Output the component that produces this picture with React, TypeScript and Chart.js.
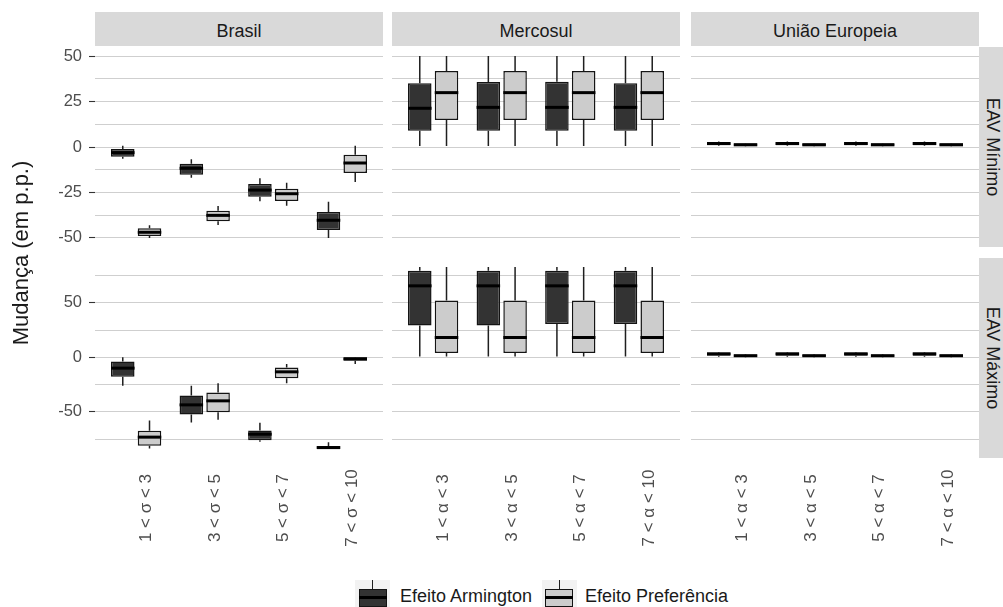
import React, { useEffect, useRef } from 'react';
import { Chart, registerables } from 'chart.js';

Chart.register(...registerables);

type Five = [number, number, number, number, number];

// Series, facets and category labels
const seriesNames = ['Efeito Armington', 'Efeito Preferência'];
const regionNames = ['Brasil', 'Mercosul', 'União Europeia'];
const scenarioNames = ['EAV Mínimo', 'EAV Máximo'];
const sigmaRanges = ['1 < σ < 3', '3 < σ < 5', '5 < σ < 7', '7 < σ < 10'];
const alphaRanges = ['1 < α < 3', '3 < α < 5', '5 < α < 7', '7 < α < 10'];
const axisTitle = 'Mudança (em p.p.)';

// Five-number summaries per elasticity range: [min, q1, median, q3, max]
const brasilMinArmington: Five[] = [
  [-6.4, -5.3, -3.1, -1.1, 0.7],
  [-16.9, -15.2, -11.7, -9.2, -6.8],
  [-29.9, -27.3, -23.7, -20.4, -17.2],
  [-50, -45.7, -40.3, -35.8, -30.1],
];
const brasilMinPreferencia: Five[] = [
  [-50, -49, -46.9, -44.7, -43.1],
  [-42.9, -40.9, -37.6, -35, -32.5],
  [-32.3, -29.7, -25.7, -22.9, -19.6],
  [-19.3, -14.3, -8.8, -4.2, 0.7],
];
const mercosulMinArmington: Five[] = [
  [0.5, 9, 21.3, 35, 50],
  [0.5, 9, 21.8, 35.8, 50],
  [0.5, 9, 21.8, 35.9, 50],
  [0.5, 9, 21.8, 35, 50],
];
const mercosulMinPreferencia: Five[] = [
  [0.5, 14.9, 29.9, 41.8, 50],
  [0.5, 14.9, 29.9, 41.8, 50],
  [0.5, 14.9, 29.9, 41.8, 50],
  [0.5, 14.9, 29.9, 41.8, 50],
];
const ueMinArmington: Five[] = [
  [0.6, 0.9, 1.9, 2.7, 3.0],
  [0.6, 0.9, 1.9, 2.7, 3.0],
  [0.6, 0.9, 1.9, 2.7, 3.0],
  [0.6, 0.9, 1.9, 2.7, 3.0],
];
const ueMinPreferencia: Five[] = [
  [0.4, 0.7, 1.2, 2.0, 2.2],
  [0.4, 0.7, 1.2, 2.0, 2.2],
  [0.4, 0.7, 1.2, 2.0, 2.2],
  [0.4, 0.7, 1.2, 2.0, 2.2],
];

const brasilMaxArmington: Five[] = [
  [-26.1, -17.9, -9.9, -3.8, 0.2],
  [-59.8, -52.4, -43.6, -35, -26.1],
  [-77.5, -76, -70.5, -67.1, -60.1],
  [-84, -83.8, -82.8, -81.3, -77.8],
];
const brasilMaxPreferencia: Five[] = [
  [-83.6, -81.2, -73.2, -67.4, -58],
  [-57.3, -50.3, -39.9, -32.3, -23.7],
  [-23.7, -19.1, -13.3, -9.3, -6.2],
  [-6.2, -3.2, -1.4, 0.2, 0.3],
];
const mercosulMaxArmington: Five[] = [
  [0.7, 29.2, 65.6, 79.4, 82.8],
  [0.7, 29.2, 65.6, 79.4, 82.8],
  [0.7, 30.7, 65.6, 79.4, 82.8],
  [0.7, 30.7, 65.6, 79.4, 82.8],
];
const mercosulMaxPreferencia: Five[] = [
  [0.7, 3.9, 18.2, 52.1, 82.8],
  [0.7, 3.9, 18.2, 52.1, 82.8],
  [0.7, 3.9, 18.2, 52.1, 82.8],
  [0.7, 3.9, 18.2, 52.1, 82.8],
];
const ueMaxArmington: Five[] = [
  [0.5, 1.5, 3.2, 4.5, 4.8],
  [0.5, 1.5, 3.2, 4.5, 4.8],
  [0.5, 1.5, 3.2, 4.5, 4.8],
  [0.5, 1.5, 3.2, 4.5, 4.8],
];
const ueMaxPreferencia: Five[] = [
  [0, 0.5, 1.5, 2.7, 3.0],
  [0, 0.5, 1.5, 2.7, 3.0],
  [0, 0.5, 1.5, 2.7, 3.0],
  [0, 0.5, 1.5, 2.7, 3.0],
];

// Facet grid: rows = scenarios, columns = regions
const gridRows: Five[][][][] = [
  [
    [brasilMinArmington, brasilMinPreferencia],
    [mercosulMinArmington, mercosulMinPreferencia],
    [ueMinArmington, ueMinPreferencia],
  ],
  [
    [brasilMaxArmington, brasilMaxPreferencia],
    [mercosulMaxArmington, mercosulMaxPreferencia],
    [ueMaxArmington, ueMaxPreferencia],
  ],
];
const columnRanges = [sigmaRanges, alphaRanges, alphaRanges];
const rowSteps = [12.5, 25];
const rowMajors = [25, 50];

// Layout
const FONT = '"Liberation Sans", Arial, Helvetica, sans-serif';
const PANEL_LEFT = [95, 392, 691];
const PANEL_W = 288;
const ROW_TOP = [47, 258];
const PANEL_H = 200;
const Y_AXIS_W = 95;
const X_AXIS_H = 100;
const FILLS = ['#333333', '#cccccc'];

function paddedRange(cols: Five[][][]): [number, number] {
  let lo = Infinity;
  let hi = -Infinity;
  cols.forEach((pair) =>
    pair.forEach((series) =>
      series.forEach((s) => {
        lo = Math.min(lo, s[0]);
        hi = Math.max(hi, s[4]);
      })
    )
  );
  const pad = (hi - lo) * 0.05;
  return [lo - pad, hi + pad];
}

function makeBoxPlugin(stats: Five[][], labels: string[] | null) {
  return {
    id: 'boxGlyphs',
    beforeDatasetsDraw(chart: any) {
      const ctx = chart.ctx;
      const ys = chart.scales.y;
      ctx.save();
      ctx.strokeStyle = '#1f1f1f';
      ctx.lineWidth = 1.5;
      stats.forEach((series, d) => {
        const meta = chart.getDatasetMeta(d);
        meta.data.forEach((bar: any, i: number) => {
          const s = series[i];
          const x = bar.x;
          ctx.beginPath();
          ctx.moveTo(x, ys.getPixelForValue(s[4]));
          ctx.lineTo(x, ys.getPixelForValue(s[3]));
          ctx.moveTo(x, ys.getPixelForValue(s[1]));
          ctx.lineTo(x, ys.getPixelForValue(s[0]));
          ctx.stroke();
        });
      });
      ctx.restore();
    },
    afterDatasetsDraw(chart: any) {
      const ctx = chart.ctx;
      const ys = chart.scales.y;
      ctx.save();
      ctx.strokeStyle = '#000000';
      ctx.lineWidth = 3;
      stats.forEach((series, d) => {
        const meta = chart.getDatasetMeta(d);
        meta.data.forEach((bar: any, i: number) => {
          const ym = ys.getPixelForValue(series[i][2]);
          const half = bar.width / 2;
          ctx.beginPath();
          ctx.moveTo(bar.x - half, ym);
          ctx.lineTo(bar.x + half, ym);
          ctx.stroke();
        });
      });
      ctx.restore();
    },
    afterDraw(chart: any) {
      if (!labels) return;
      const ctx = chart.ctx;
      const xs = chart.scales.x;
      const area = chart.chartArea;
      ctx.save();
      ctx.fillStyle = '#4d4d4d';
      ctx.font = `17px ${FONT}`;
      ctx.textAlign = 'center';
      ctx.textBaseline = 'alphabetic';
      labels.forEach((lbl, i) => {
        const x = xs.getPixelForValue(i + 1);
        ctx.save();
        ctx.translate(x + 15, area.bottom + 50);
        ctx.rotate(-Math.PI / 2);
        ctx.fillText(lbl, 0, 0);
        ctx.restore();
      });
      ctx.restore();
    },
  };
}

type PanelProps = {
  row: number;
  col: number;
  yRange: [number, number];
};

function Panel({ row, col, yRange }: PanelProps) {
  const ref = useRef<HTMLCanvasElement>(null);
  const showY = col === 0;
  const showX = row === gridRows.length - 1;
  const canvasLeft = showY ? PANEL_LEFT[col] - Y_AXIS_W : PANEL_LEFT[col];
  const canvasW = PANEL_W + (showY ? Y_AXIS_W : 0);
  const canvasH = PANEL_H + (showX ? X_AXIS_H : 0);

  useEffect(() => {
    const [arm, pref] = gridRows[row][col];
    const step = rowSteps[row];
    const major = rowMajors[row];
    const isMajor = (v: number) => Math.abs(v / major - Math.round(v / major)) < 1e-9;
    const plugin = makeBoxPlugin([arm, pref], showX ? columnRanges[col] : null);

    const chart = new Chart(ref.current as HTMLCanvasElement, {
      type: 'bar',
      data: {
        datasets: [arm, pref].map((series, d) => ({
          label: seriesNames[d],
          data: series.map((s, i) => ({ x: i + 1, y: [s[1], s[3]] })),
          backgroundColor: FILLS[d],
          borderColor: '#141414',
          borderWidth: 1.5,
          borderSkipped: false,
          categoryPercentage: 0.78,
          barPercentage: 0.88,
        })) as any,
      },
      options: {
        animation: false,
        responsive: false,
        devicePixelRatio: 1,
        layout: { padding: 0, autoPadding: false },
        plugins: { legend: { display: false }, tooltip: { enabled: false } },
        scales: {
          x: {
            type: 'linear',
            min: 0.4,
            max: 4.6,
            offset: false,
            afterFit: (s: any) => {
              s.height = showX ? X_AXIS_H : 0;
              s.paddingLeft = 0;
              s.paddingRight = 0;
              s.paddingTop = 0;
              s.paddingBottom = 0;
            },
            ticks: { display: false, stepSize: 1, includeBounds: false },
            grid: { display: false, drawTicks: false },
            border: { display: false },
          },
          y: {
            type: 'linear',
            min: yRange[0],
            max: yRange[1],
            afterFit: (s: any) => {
              s.width = showY ? Y_AXIS_W : 0;
              s.paddingTop = 0;
              s.paddingBottom = 0;
              s.paddingLeft = 0;
              s.paddingRight = 0;
            },
            ticks: {
              display: showY,
              stepSize: step,
              includeBounds: false,
              autoSkip: false,
              padding: 7,
              color: '#4d4d4d',
              font: { family: FONT, size: 16.5 },
              callback: (v: any) => (isMajor(Number(v)) ? String(v) : ''),
            },
            grid: {
              color: '#cfcfcf',
              lineWidth: 1,
              drawTicks: showY,
              tickLength: 6,
              tickWidth: 1.1,
              tickColor: (c: any) =>
                c.tick && isMajor(c.tick.value) ? '#333333' : 'rgba(0,0,0,0)',
            },
            border: { display: false },
          },
        },
      } as any,
      plugins: [plugin as any],
    });
    return () => chart.destroy();
  }, [row, col, yRange[0], yRange[1], showX, showY]);

  return (
    <canvas
      ref={ref}
      width={canvasW}
      height={canvasH}
      style={{
        position: 'absolute',
        left: canvasLeft,
        top: ROW_TOP[row],
        width: canvasW,
        height: canvasH,
      }}
    />
  );
}

function LegendKey({ left, fill }: { left: number; fill: string }) {
  return (
    <div
      style={{
        position: 'absolute',
        left,
        top: 580,
        width: 35,
        height: 35,
        background: '#f2f2f2',
      }}
    >
      <div
        style={{
          position: 'absolute',
          left: 17,
          top: 0,
          width: 1.4,
          height: 35,
          background: '#1f1f1f',
        }}
      />
      <div
        style={{
          position: 'absolute',
          left: 3.5,
          top: 8.5,
          width: 28,
          height: 18,
          boxSizing: 'border-box',
          border: '1.5px solid #141414',
          background: fill,
        }}
      />
      <div
        style={{
          position: 'absolute',
          left: 3.5,
          top: 16.2,
          width: 28,
          height: 2.8,
          background: '#000',
        }}
      />
    </div>
  );
}

export default function App() {
  const yRanges = gridRows.map((r) => paddedRange(r));

  return (
    <div
      style={{
        position: 'absolute',
        left: 0,
        top: 0,
        width: 1003,
        height: 607,
        overflow: 'hidden',
        background: '#ffffff',
        fontFamily: FONT,
      }}
    >
      {regionNames.map((name, c) => (
        <div
          key={name}
          style={{
            position: 'absolute',
            left: PANEL_LEFT[c],
            top: 12,
            width: PANEL_W,
            height: 34,
            boxSizing: 'border-box',
            paddingTop: 5,
            background: '#d9d9d9',
            color: '#1a1a1a',
            fontSize: 18,
            lineHeight: '29px',
            textAlign: 'center',
          }}
        >
          {name}
        </div>
      ))}

      {scenarioNames.map((name, r) => (
        <div
          key={name}
          style={{
            position: 'absolute',
            left: 979,
            top: ROW_TOP[r],
            width: 30,
            height: PANEL_H,
            background: '#d9d9d9',
          }}
        >
          <div
            style={{
              position: 'absolute',
              left: 13.5 - PANEL_H / 2,
              top: PANEL_H / 2 - 12,
              width: PANEL_H,
              height: 24,
              lineHeight: '24px',
              textAlign: 'center',
              fontSize: 18,
              color: '#1a1a1a',
              transform: 'rotate(90deg)',
              whiteSpace: 'nowrap',
            }}
          >
            {name}
          </div>
        </div>
      ))}

      {gridRows.map((cols, r) =>
        cols.map((_, c) => (
          <Panel key={`${r}-${c}`} row={r} col={c} yRange={yRanges[r]} />
        ))
      )}

      <div
        style={{
          position: 'absolute',
          left: 21 - 150,
          top: 252.5 - 13,
          width: 300,
          height: 26,
          lineHeight: '26px',
          textAlign: 'center',
          fontSize: 22,
          color: '#1a1a1a',
          transform: 'rotate(-90deg)',
          whiteSpace: 'nowrap',
        }}
      >
        {axisTitle}
      </div>

      <LegendKey left={355} fill={FILLS[0]} />
      <div
        style={{
          position: 'absolute',
          left: 400,
          top: 586,
          fontSize: 18,
          lineHeight: '20px',
          color: '#1a1a1a',
          whiteSpace: 'nowrap',
        }}
      >
        {seriesNames[0]}
      </div>
      <LegendKey left={541.5} fill={FILLS[1]} />
      <div
        style={{
          position: 'absolute',
          left: 585,
          top: 586,
          fontSize: 18,
          lineHeight: '20px',
          color: '#1a1a1a',
          whiteSpace: 'nowrap',
        }}
      >
        {seriesNames[1]}
      </div>
    </div>
  );
}
